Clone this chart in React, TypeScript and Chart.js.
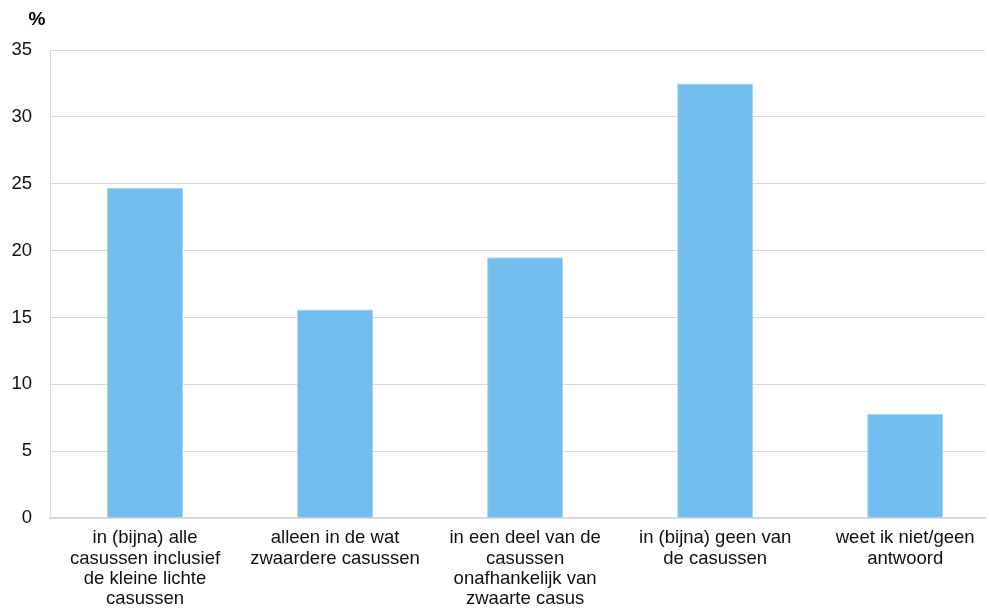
import React, { useEffect, useRef } from "react";
import { Chart, registerables } from "chart.js";

Chart.register(...registerables);

const categories: string[][] = [
  ["in (bijna) alle", "casussen inclusief", "de kleine lichte", "casussen"],
  ["alleen in de wat", "zwaardere casussen"],
  ["in een deel van de", "casussen", "onafhankelijk van", "zwaarte casus"],
  ["in (bijna) geen van", "de casussen"],
  ["weet ik niet/geen", "antwoord"],
];
const values: number[] = [24.7, 15.6, 19.5, 32.5, 7.8];
const yTicks = { min: 0, max: 35, step: 5 };
const unitLabel = "%";

const FONT = "'Liberation Sans', Arial, sans-serif";

export default function App() {
  const ref = useRef<HTMLCanvasElement | null>(null);
  useEffect(() => {
    if (!ref.current) return;
    const unitPlugin = {
      id: "unitPlugin",
      afterDraw(chart: any) {
        const ctx = chart.ctx;
        ctx.save();
        ctx.font = `bold 19px ${FONT}`;
        ctx.fillStyle = "#000";
        ctx.textAlign = "center";
        ctx.textBaseline = "middle";
        ctx.fillText(unitLabel, chart.chartArea.left - 13, chart.chartArea.top - 30);
        ctx.restore();
      },
    };
    const chart = new Chart(ref.current, {
      type: "bar",
      data: {
        datasets: [
          {
            data: values.map((v, i) => ({ x: i, y: v })),
            backgroundColor: "#71bdee",
            borderColor: "#a6d5f5",
            borderWidth: 1,
            barPercentage: 0.4,
            categoryPercentage: 1,
          },
        ],
      },
      options: {
        animation: false,
        responsive: false,
        maintainAspectRatio: false,
        layout: { padding: { top: 50, right: 4, left: 0, bottom: 0 } },
        plugins: {
          legend: { display: false },
          tooltip: { enabled: false },
          title: { display: false },
        },
        scales: {
          x: {
            type: "linear",
            min: -0.5,
            max: categories.length - 0.58,
            offset: false,
            grid: { display: false, drawTicks: false },
            border: { display: true, color: "#d9d9d9", width: 2 },
            afterBuildTicks(scale: any) {
              scale.ticks = categories.map((_, i) => ({ value: i }));
            },
            ticks: {
              color: "#111",
              font: { family: FONT, size: 18.5, lineHeight: 1.1 },
              maxRotation: 0,
              autoSkip: false,
              padding: 10,
              callback: (value: any) => categories[Math.round(Number(value))] ?? "",
            },
            afterFit(scale: any) {
              scale.height = 96;
            },
          },
          y: {
            min: yTicks.min,
            max: yTicks.max,
            ticks: {
              stepSize: yTicks.step,
              color: "#111",
              font: { family: FONT, size: 18.5 },
              padding: 18,
            },
            grid: { color: "#d9d9d9", lineWidth: 1, drawTicks: false },
            border: { display: true, color: "#d9d9d9", width: 1 },
            afterFit(scale: any) {
              scale.width = 50;
            },
          },
        },
      },
      plugins: [unitPlugin],
    });
    return () => chart.destroy();
  }, []);
  return (
    <div style={{ position: "absolute", left: 0, top: 0, width: 989, height: 614, background: "#fff" }}>
      <canvas ref={ref} width={989} height={614} style={{ width: 989, height: 614 }} />
    </div>
  );
}
